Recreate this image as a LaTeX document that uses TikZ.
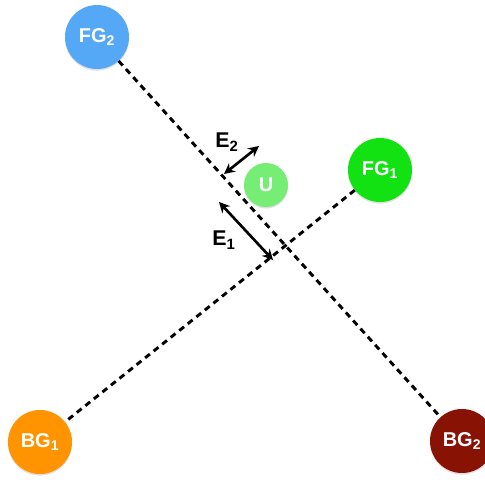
\documentclass[tikz,border=0pt]{standalone}
\usepackage{fontspec}
\setmainfont{Liberation Sans}
\usetikzlibrary{arrows.meta,shadows}
\definecolor{fgtwo}{RGB}{84,168,246}
\definecolor{fgone}{RGB}{18,226,18}
\definecolor{ucol}{RGB}{118,238,118}
\definecolor{bgone}{RGB}{255,148,0}
\definecolor{bgtwo}{RGB}{136,18,4}
\newcommand{\lbl}[2]{#1\textsubscript{#2}}
\begin{document}
\begin{tikzpicture}[x=0.75pt,y=-0.75pt,
  blob/.style={circle,inner sep=0pt,minimum size=48pt,text=white,
    font=\fontsize{15}{16}\selectfont\bfseries,
    drop shadow={shadow xshift=0pt,shadow yshift=-1.2pt,opacity=0.25}},
  link/.style={line width=2.2pt,dash pattern=on 4.6pt off 3.6pt},
  gap/.style={line width=2pt,{Stealth[length=8pt,width=8pt]}-{Stealth[length=8pt,width=8pt]}},
  elabel/.style={font=\fontsize{16}{17}\selectfont\bfseries}]
  \useasboundingbox (0,0) rectangle (485,479);
  % circles
  \node[blob,fill=fgtwo] (fg2) at (97,37) {\lbl{FG}{2}};
  \node[blob,fill=fgone] (fg1) at (380,170) {\lbl{FG}{1}};
  \node[blob,fill=bgone] (bg1) at (40,442) {\lbl{BG}{1}};
  \node[blob,fill=bgtwo] (bg2) at (462,441) {\lbl{BG}{2}};
  \node[blob,fill=ucol,minimum size=33pt] (u) at (266,185) {U};
  % dashed links
  \draw[link] (fg2) -- (bg2);
  \draw[link] (fg1) -- (bg1);
  % distance arrows
  \coordinate (e2a) at (224,174);
  \coordinate (e2b) at (259,146);
  \coordinate (e1a) at (219,202);
  \coordinate (e1b) at (273,260);
  \draw[gap] (e2a) -- (e2b);
  \draw[gap] (e1a) -- (e1b);
  \node[elabel] (le2) at (227,142) {\lbl{E}{2}};
  \node[elabel] (le1) at (224,240) {\lbl{E}{1}};
\end{tikzpicture}
\end{document}
